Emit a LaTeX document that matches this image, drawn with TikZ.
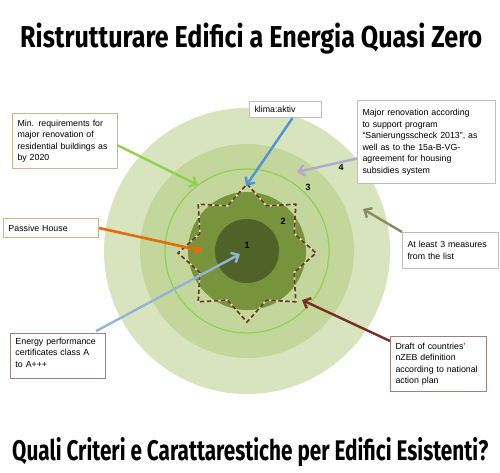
\documentclass[tikz,border=0pt]{standalone}
\usepackage{graphicx}
\usepackage{fontspec}
\setmainfont{Liberation Sans}
\newfontfamily\titlefont{Fira Sans}
\usetikzlibrary{arrows.meta,calc}
\definecolor{cFour}{HTML}{D7E4BD}
\definecolor{cThree}{HTML}{C3D69B}
\definecolor{cRing}{HTML}{92D050}
\definecolor{cTwo}{HTML}{77933C}
\definecolor{cOne}{HTML}{4F6228}
\definecolor{cStar}{HTML}{5C4020}
\definecolor{cCream}{HTML}{E8DDB0}
\definecolor{aGreen}{HTML}{92D050}
\definecolor{aOrange}{HTML}{E46C0A}
\definecolor{aBlue}{HTML}{4F94D4}
\definecolor{aLav}{HTML}{B3A9CF}
\definecolor{aOlive}{HTML}{8A8A60}
\definecolor{aRed}{HTML}{7B2C24}
\definecolor{aLBlue}{HTML}{95B3D7}
\definecolor{bTan}{HTML}{D8B08C}
\definecolor{bGray}{HTML}{BFBFBF}
\definecolor{bMauve}{HTML}{A08080}
\begin{document}
\begin{tikzpicture}[x=1pt,y=-1pt,
  infobox/.style={draw, line width=1pt, fill=white, align=left, anchor=north west,
    inner xsep=5pt, inner ysep=2pt, font=\fontsize{8.8}{11.5}\selectfont},
  arr/.style={line width=2.4pt, -{Straight Barb[length=6pt,width=11pt]}},
  num/.style={font=\bfseries\fontsize{9}{10}\selectfont, inner sep=0pt}]
\useasboundingbox (0,0) rectangle (500,472);
\fill[white] (0,0) rectangle (500,472);
% titles
\node[anchor=base west, inner sep=0pt] (title) at (20,47)
  {\resizebox{462pt}{24.5pt}{\titlefont\bfseries Ristrutturare Edifici a Energia Quasi Zero}};
\node[anchor=base west, inner sep=0pt] (subtitle) at (12,460)
  {\resizebox{476pt}{23pt}{\titlefont\bfseries Quali Criteri e Carattarestiche per Edifici Esistenti?}};
% circles
\coordinate (c) at (247,251);
\coordinate (sc) at (247,253);
\fill[cFour] (c) circle[radius=143pt];
\fill[cThree] (c) circle[radius=107pt];
\draw[cRing, line width=1.2pt] (c) circle[radius=82pt];
\fill[cTwo] (c) circle[radius=59pt];
\fill[cOne] (c) circle[radius=32pt];
% star
\draw[cCream, line width=1.7pt] ([shift={(sc)}]90:69pt)
  \foreach \a in {0,...,7} { -- ([shift={(sc)}]{67.5-\a*45}:51pt) -- ([shift={(sc)}]{45-\a*45}:69pt) } -- cycle;
\draw[cStar, line width=1.7pt, dash pattern=on 4.5pt off 2.5pt] ([shift={(sc)}]90:69pt)
  \foreach \a in {0,...,7} { -- ([shift={(sc)}]{67.5-\a*45}:51pt) -- ([shift={(sc)}]{45-\a*45}:69pt) } -- cycle;
% numbers
\node[num] (n1) at (247,245) {1};
\node[num] (n2) at (283,221) {2};
\node[num] (n3) at (308,187) {3};
\node[num] (n4) at (341,167) {4};
% boxes
\node[infobox, draw=bTan, text width=95pt, minimum height=55pt] (minreq) at (12,113)
  {Min. requirements for\\major renovation of\\residential buildings as\\by 2020};
\node[infobox, draw=bTan, text width=85pt, minimum height=19pt] (passive) at (3,218)
  {Passive House};
\node[infobox, draw=bGray, text width=62pt, minimum height=16pt] (klima) at (249,101)
  {klima:aktiv};
\node[infobox, draw=bGray, text width=128pt, minimum height=83pt] (major) at (357,100)
  {Major renovation according\\to support program\\“Sanierungsscheck 2013”, as\\well as to the 15a-B-VG-\\agreement for housing\\subsidies system};
\node[infobox, draw=bGray, text width=86pt, minimum height=36pt] (atleast) at (402,232)
  {At least 3 measures\\from the list};
\node[infobox, draw=bMauve, text width=86pt, minimum height=55pt] (draft) at (390,336)
  {Draft of countries’\\nZEB definition\\according to national\\action plan};
\node[infobox, draw=bMauve, text width=85pt, minimum height=45pt, text depth=30pt] (energy) at (10,333)
  {Energy performance\\certificates class A\\to A+++};
% arrow targets
\coordinate (tG) at (198,185);
\coordinate (tO) at (203,251);
\coordinate (tB) at (246,186);
\coordinate (tL) at (297,172);
\coordinate (tV) at (363,209);
\coordinate (tR) at (302,300);
\coordinate (tLB) at (240,254);
% arrows
\draw[arr, aGreen] ([yshift=-4.5pt]minreq.east) -- (tG);
\draw[line width=2.6pt, aOrange, -{Triangle[length=8pt,width=9pt]}] (passive.east) -- (tO);
\draw[arr, aBlue] ([xshift=7pt]klima.south) -- (tB);
\draw[arr, aLav] ([yshift=-16.5pt]major.west) -- (tL);
\draw[arr, aOlive] (atleast.north west) -- (tV);
\draw[arr, aRed] ([yshift=-5pt]draft.north west) -- (tR);
\draw[arr, aLBlue, shorten <=4pt] ([xshift=34.5pt]energy.north) -- (tLB);
\end{tikzpicture}
\end{document}
